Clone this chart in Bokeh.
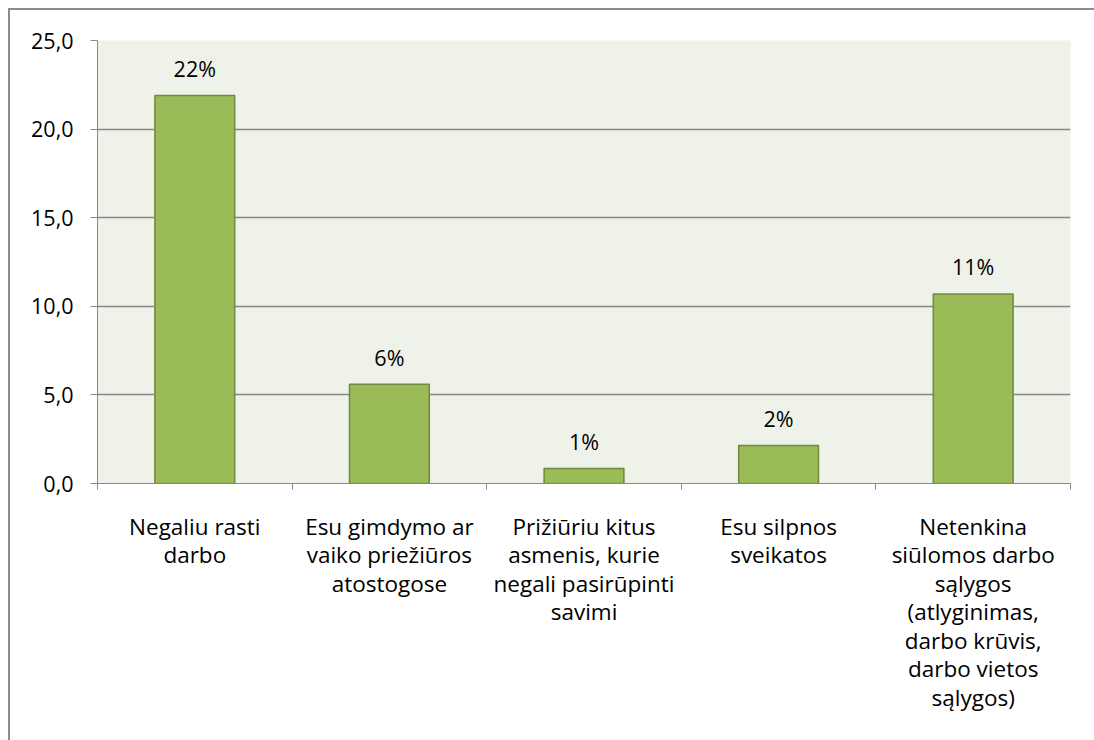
from bokeh.plotting import figure
from bokeh.models import ColumnDataSource, Range1d, FixedTicker
from bokeh.core.properties import value
from bokeh.embed import file_html
from bokeh.resources import INLINE

categories = [
    "Negaliu rasti\ndarbo",
    "Esu gimdymo ar\nvaiko priežiūros\natostogose",
    "Prižiūriu kitus\nasmenis, kurie\nnegali pasirūpinti\nsavimi",
    "Esu silpnos\nsveikatos",
    "Netenkina\nsiūlomos darbo\nsąlygos\n(atlyginimas,\ndarbo krūvis,\ndarbo vietos\nsąlygos)",
]
values = [21.9, 5.6, 0.85, 2.15, 10.7]
value_labels = ["22%", "6%", "1%", "2%", "11%"]
y_ticks = [0, 5, 10, 15, 20, 25]
y_tick_labels = ["0,0", "5,0", "10,0", "15,0", "20,0", "25,0"]

FONT = "Open Sans"
FS = "21.5px"
FS_X = "22.5px"
GRAY = "#888888"

positions = list(range(1, len(categories) + 1))
source = ColumnDataSource(dict(x=positions, top=values, label=value_labels))

p = figure(
    output_backend="svg", toolbar_location=None,
    frame_width=973, frame_height=443,
    min_border_left=87, min_border_right=24, min_border_top=30, min_border_bottom=257,
    x_range=Range1d(0.5, len(categories) + 0.5), y_range=Range1d(0, 25),
    background_fill_color="#EEF2E8", border_fill_color="white",
)
p.styles = {"border-top": "2px solid #8c8c8c", "border-left": "2px solid #8c8c8c",
            "margin-left": "8px", "margin-top": "8px"}
p.outline_line_color = None

p.vbar(x="x", top="top", width=0.41, source=source,
       fill_color="#9BBB59", line_color="#71893F", line_width=1.5)
p.text(x="x", y="top", text="label", source=source,
       text_align="center", text_baseline="alphabetic", y_offset=-27,
       text_font=value(FONT), text_font_size=FS, text_color="black")

# Y axis
p.yaxis.ticker = FixedTicker(ticks=y_ticks, minor_ticks=[])
p.yaxis.major_label_overrides = {t: l for t, l in zip(y_ticks, y_tick_labels)}
p.yaxis.axis_line_color = GRAY
p.yaxis.major_tick_line_color = GRAY
p.yaxis.major_tick_out = 7
p.yaxis.major_tick_in = 0
p.yaxis.major_label_standoff = 17
p.yaxis.major_label_text_font = FONT
p.yaxis.major_label_text_font_size = FS
p.yaxis.major_label_text_color = "black"

# X axis
p.xaxis.ticker = FixedTicker(ticks=positions,
                             minor_ticks=[i + 0.5 for i in range(0, len(categories) + 1)])
p.xaxis.major_label_overrides = {pos: c for pos, c in zip(positions, categories)}
p.xaxis.axis_line_color = GRAY
p.xaxis.major_tick_out = 0
p.xaxis.major_tick_in = 0
p.xaxis.minor_tick_line_color = GRAY
p.xaxis.minor_tick_out = 6
p.xaxis.minor_tick_in = 0
p.xaxis.major_label_standoff = 21
p.xaxis.major_label_text_font = FONT
p.xaxis.major_label_text_font_size = FS_X
p.xaxis.major_label_text_color = "black"
p.xaxis.major_label_text_line_height = 0.92

p.xgrid.grid_line_color = None
p.ygrid.grid_line_color = GRAY
p.ygrid.grid_line_width = 1.4

open("out.html", "w").write(file_html(p, INLINE))
